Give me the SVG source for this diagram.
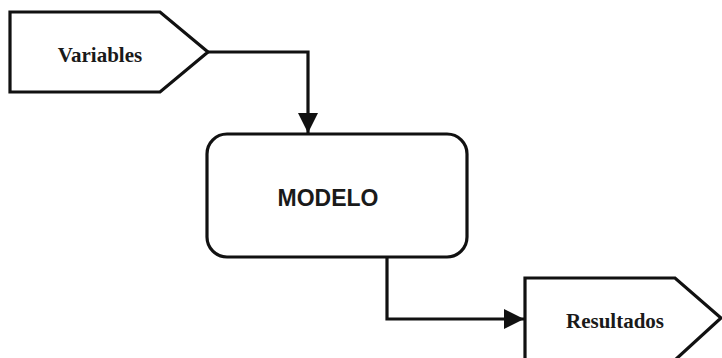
<svg xmlns="http://www.w3.org/2000/svg" width="722" height="358" viewBox="0 0 722 358">
<defs>
<style>
.shape{fill:#fff;stroke:#111;stroke-width:3.2;stroke-linejoin:miter}
.conn{fill:none;stroke:#111;stroke-width:3.2}
.serif{font-family:"Liberation Serif","Times New Roman",serif;font-weight:bold;font-size:21px;fill:#1a1a1a}
.sans{font-family:"Liberation Sans",Arial,sans-serif;font-weight:bold;font-size:23px;fill:#1a1a1a}
</style>
<marker id="arr" viewBox="0 0 20 20" refX="20" refY="10" markerWidth="20" markerHeight="20" markerUnits="userSpaceOnUse" orient="auto">
<path d="M0,0 L20,10 L0,20 Z" fill="#111"/>
</marker>
</defs>
<rect width="722" height="358" fill="#fff"/>
<g id="variables">
<path class="shape" d="M10,12 L160,12 L208,52 L160,92 L10,92 Z"/>
<text class="serif" x="100" y="62" text-anchor="middle">Variables</text>
</g>
<g id="modelo">
<rect class="shape" x="207" y="134" width="260" height="123" rx="20" ry="20"/>
<text class="sans" x="328" y="206" text-anchor="middle">MODELO</text>
</g>
<g id="resultados">
<path class="shape" d="M525,278 L675,278 L721,318 L675,360 L525,360 Z"/>
<text class="serif" x="615" y="328" text-anchor="middle">Resultados</text>
</g>
<g id="connectors">
<path class="conn" d="M208,52 L308,52 L308,133" marker-end="url(#arr)"/>
<path class="conn" d="M387,257 L387,319 L524,319" marker-end="url(#arr)"/>
</g>
</svg>
